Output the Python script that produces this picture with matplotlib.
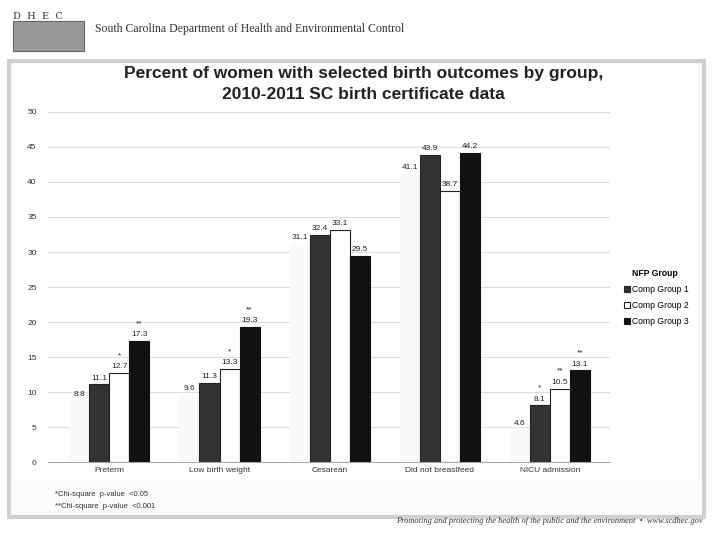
import numpy as np
import matplotlib
matplotlib.use("Agg")
import matplotlib.pyplot as plt
from matplotlib.patches import Rectangle

plt.rcParams['font.family'] = ['Liberation Sans', 'DejaVu Sans']

categories = ['Preterm', 'Low birth weight', 'Cesarean', 'Did not breastfeed', 'NICU admission']
groups = ['NFP Group', 'Comp Group 1', 'Comp Group 2', 'Comp Group 3']
nfp = [8.8, 9.6, 31.1, 41.1, 4.6]
comp1 = [11.1, 11.3, 32.4, 43.9, 8.1]
comp2 = [12.7, 13.3, 33.1, 38.7, 10.5]
comp3 = [17.3, 19.3, 29.5, 44.2, 13.1]
# significance marks per group/category
stars1 = ['', '', '', '', '*']
stars2 = ['*', '*', '', '', '**']
stars3 = ['**', '**', '', '', '**']

fig = plt.figure(figsize=(7.13, 5.33), dpi=100)

# slide frame
fig.patches.append(Rectangle((0.012, 0.03), 0.975, 0.855, transform=fig.transFigure,
                             facecolor='#fbfbfb', edgecolor='#d0d0d0', lw=3, zorder=0))
fig.patches.append(Rectangle((0.02, 0.1), 0.96, 0.78, transform=fig.transFigure,
                             facecolor='white', edgecolor='none', zorder=0))
# logo
fig.patches.append(Rectangle((0.018, 0.905), 0.1, 0.055, transform=fig.transFigure,
                             facecolor='#9a9a9a', edgecolor='#666666', lw=0.8, zorder=1))
fig.text(0.018, 0.965, 'D  H  E  C', fontsize=7, family='DejaVu Serif', color='#333333')
fig.text(0.133, 0.946, 'South Carolina Department of Health and Environmental Control',
         fontsize=8.5, family='Liberation Serif', color='#333333', va='center')
fig.text(0.985, 0.018, 'Promoting and protecting the health of the public and the environment  \u2022  www.scdhec.gov',
         fontsize=6, family='Liberation Serif', style='italic', color='#333333', ha='right')

fig.text(0.51, 0.853, 'Percent of women with selected birth outcomes by group,',
         fontsize=12.5, weight='bold', ha='center', color='#222222')
fig.text(0.51, 0.815, '2010-2011 SC birth certificate data',
         fontsize=12.5, weight='bold', ha='center', color='#222222')

ax = fig.add_axes([0.067, 0.133, 0.789, 0.657])
ax.set_zorder(5)
ax.patch.set_alpha(0)
x = np.arange(len(categories))
w = 0.182
series = [nfp, comp1, comp2, comp3]
colors = ['#f9f9f9', '#333333', 'white', '#111111']
edges = ['none', '#222222', '#222222', '#111111']
star_sets = [['']*5, stars1, stars2, stars3]

for i, (vals, c, e, st) in enumerate(zip(series, colors, edges, star_sets)):
    pos = x + (i - 1.5) * w
    ax.bar(pos, vals, width=w, color=c, edgecolor=e, lw=0.8, label=groups[i], zorder=3)
    for p, v, s in zip(pos, vals, st):
        ax.text(p, v + 0.4, f'{v:.1f}', ha='center', va='bottom', fontsize=6, color='#222222', zorder=4)
        if s:
            ax.text(p, v + 2.0, s, ha='center', va='bottom', fontsize=6, color='#222222', zorder=4)

ax.set_xlim(-0.56, 4.55)
ax.set_ylim(0, 50)
ax.set_yticks(range(0, 51, 5))
ax.set_xticks(x)
ax.set_xticklabels(categories)
ax.tick_params(axis='both', length=0, labelsize=6, colors='#333333')
ax.tick_params(axis='y', pad=8)
ax.yaxis.grid(True, color='#dddddd', lw=0.8, zorder=0)
for s in ['top', 'right', 'left']:
    ax.spines[s].set_visible(False)
ax.spines['bottom'].set_color('#aaaaaa')

leg = ax.legend(loc='center left', bbox_to_anchor=(1.01, 0.47), frameon=False, fontsize=6.2,
                handlelength=0.7, handleheight=0.7, handletextpad=0.3, labelspacing=0.8)
leg.legend_handles[0].set_visible(False)
leg.get_texts()[0].set_fontweight('bold')
leg.legend_handles[2].set_edgecolor('#222222')

fig.text(0.077, 0.07, '*Chi-square  p-value  <0.05', fontsize=5.5, color='#333333')
fig.text(0.077, 0.047, '**Chi-square  p-value  <0.001', fontsize=5.5, color='#333333')

fig.savefig('out.png', dpi=100)
